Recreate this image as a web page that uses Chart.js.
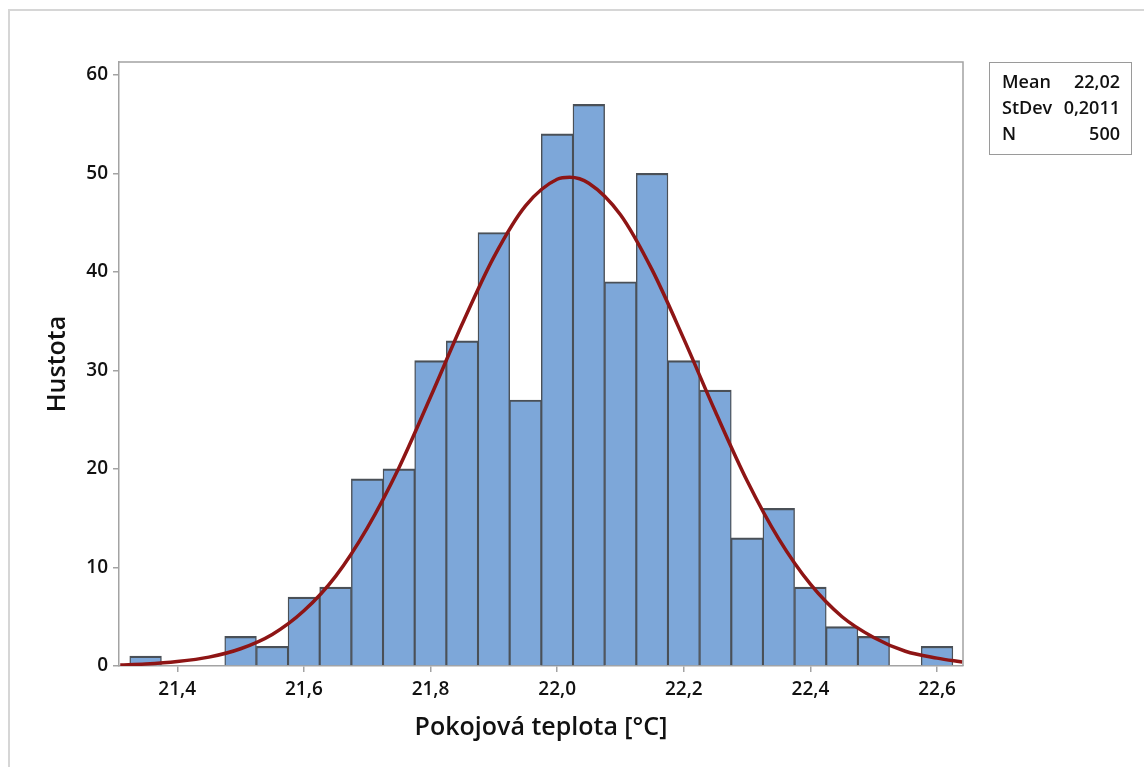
<!DOCTYPE html>
<html>
<head>
<meta charset="utf-8">
<script src="https://cdn.jsdelivr.net/npm/chart.js@4.4.1/dist/chart.umd.min.js"></script>
<style>
  html, body { margin: 0; padding: 0; background: #fff; overflow: hidden; }
  #wrap { position: relative; width: 1144px; height: 767px; }
  #frame { position: absolute; left: 8px; top: 9px; width: 1200px; height: 800px; border: 2px solid #d6d6d6; box-sizing: border-box; }
  canvas { position: absolute; left: 0; top: 0; }
  #stats { position: absolute; left: 989px; top: 62px; width: 143px; height: 93px; border: 1.5px solid #9a9a9a; box-sizing: border-box;
           font-family: "Open Sans", sans-serif; font-weight: 600; font-size: 18px; color: #111; padding: 5px 11px 0 12px; }
  #stats .row { display: flex; justify-content: space-between; height: 26px; line-height: 26px; }
</style>
</head>
<body>
<div id="wrap">
  <div id="frame"></div>
  <canvas id="c" width="1144" height="767"></canvas>
  <div id="stats">
    <div class="row"><span>Mean</span><span>22,02</span></div>
    <div class="row"><span>StDev</span><span>0,2011</span></div>
    <div class="row"><span>N</span><span>500</span></div>
  </div>
</div>
<script>
// Histogram bins (centers, °C) and counts
const binCenters = [21.35, 21.40, 21.45, 21.50, 21.55, 21.60, 21.65, 21.70, 21.75, 21.80, 21.85, 21.90, 21.95,
                    22.00, 22.05, 22.10, 22.15, 22.20, 22.25, 22.30, 22.35, 22.40, 22.45, 22.50, 22.55, 22.60];
const binCounts  = [1, 0, 0, 3, 2, 7, 8, 19, 20, 31, 33, 44, 27,
                    54, 57, 39, 50, 31, 28, 13, 16, 8, 4, 3, 0, 2];

// Fitted curve
const curveX = [21.31, 21.35, 21.40, 21.45, 21.50, 21.55, 21.60, 21.65, 21.70, 21.75, 21.80, 21.85, 21.90, 21.95,
                22.00, 22.02, 22.05, 22.10, 22.15, 22.20, 22.25, 22.30, 22.35, 22.40, 22.45, 22.50, 22.55, 22.60, 22.64];
const curveY = [0.1, 0.2, 0.45, 0.9, 1.75, 3.2, 5.6, 9.1, 14.0, 20.1, 27.3, 34.7, 41.5, 46.7,
                49.4, 49.6, 49.0, 45.8, 40.2, 33.2, 25.8, 18.8, 12.9, 8.3, 5.0, 2.9, 1.5, 0.8, 0.4];

// Tick labels
const xTicks = [21.4, 21.6, 21.8, 22.0, 22.2, 22.4, 22.6];
const yTicks = [0, 10, 20, 30, 40, 50, 60];

const xTitle = 'Pokojová teplota [°C]';
const yTitle = 'Hustota';

const barData = binCenters.map((x, i) => ({ x: x, y: binCounts[i] })).filter(p => p.y > 0);
const lineData = curveX.map((x, i) => ({ x: x, y: curveY[i] }));

const fmt = v => v.toFixed(1).replace('.', ',');
const tickFont = { family: 'Open Sans', size: 19, weight: '600' };
const titleFont = { family: 'Open Sans', size: 25, weight: '600' };

const framePlugin = {
  id: 'frame',
  afterDraw(chart) {
    const { ctx, chartArea: a } = chart;
    ctx.save();
    ctx.strokeStyle = '#a3a3a3';
    ctx.lineWidth = 1.5;
    ctx.beginPath();
    ctx.moveTo(a.left, a.top);
    ctx.lineTo(a.right, a.top);
    ctx.lineTo(a.right, a.bottom);
    ctx.stroke();
    ctx.restore();
  }
};

new Chart(document.getElementById('c'), {
  data: {
    datasets: [
      {
        type: 'line',
        data: lineData,
        borderColor: '#8e1515',
        borderWidth: 3.5,
        pointRadius: 0,
        cubicInterpolationMode: 'monotone',
        fill: false,
        order: 1
      },
      {
        type: 'bar',
        data: barData,
        backgroundColor: '#7da7d9',
        borderColor: '#4a5057',
        borderWidth: { top: 2.2, left: 1.4, right: 1.4, bottom: 0 },
        borderSkipped: false,
        barPercentage: 1,
        categoryPercentage: 1,
        order: 2
      }
    ]
  },
  options: {
    responsive: false,
    animation: false,
    devicePixelRatio: 1,
    layout: { padding: { left: 0, right: 181, top: 62, bottom: 0 } },
    plugins: { legend: { display: false }, tooltip: { enabled: false } },
    scales: {
      x: {
        type: 'linear',
        offset: false,
        min: 21.308,
        max: 22.641,
        afterBuildTicks: s => { s.ticks = xTicks.map(v => ({ value: v })); },
        afterFit: s => { s.height = 101; },
        ticks: { callback: v => fmt(v), font: tickFont, color: '#111', padding: 6, maxRotation: 0, autoSkip: false },
        grid: { offset: false, drawOnChartArea: false, drawTicks: true, tickLength: 6, color: '#a3a3a3', lineWidth: 1.5 },
        border: { display: true, color: '#a3a3a3', width: 1.5 },
        title: { display: true, text: xTitle, font: titleFont, color: '#111', padding: { top: 0, bottom: 24 } }
      },
      y: {
        type: 'linear',
        min: 0,
        max: 61.3,
        afterBuildTicks: s => { s.ticks = yTicks.map(v => ({ value: v })); },
        afterFit: s => { s.width = 119; },
        ticks: { font: tickFont, color: '#111', padding: 5 },
        grid: { drawOnChartArea: false, drawTicks: true, tickLength: 6, color: '#a3a3a3', lineWidth: 1.5 },
        border: { display: true, color: '#a3a3a3', width: 1.5 },
        title: { display: true, text: yTitle, font: titleFont, color: '#111', padding: { top: 43, bottom: 0 } }
      }
    }
  },
  plugins: [framePlugin]
});
</script>
</body>
</html>
